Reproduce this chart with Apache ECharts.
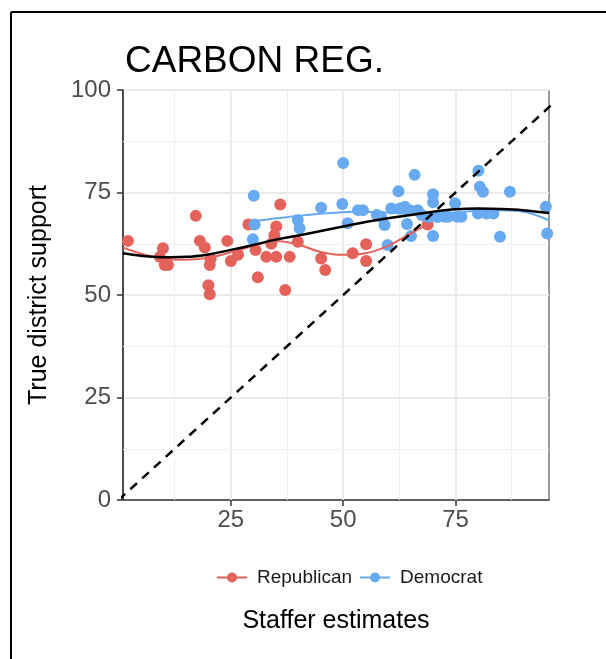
<!DOCTYPE html>
<html>
<head>
<meta charset="utf-8">
<script src="https://cdn.jsdelivr.net/npm/echarts@6/dist/echarts.min.js"></script>
<style>
  html, body { margin: 0; padding: 0; background: #fff; }
  #main { width: 606px; height: 659px; }
</style>
</head>
<body>
<div id="main"></div>
<script>
// staffer estimate (x) vs true district support (y)
var republican = [
  [2.1, 63.2], [9.2, 59.3], [9.9, 61.4], [10.3, 57.3], [11, 57.3], [17.2, 69.3],
  [18.1, 63.2], [19.2, 61.6], [20.3, 57.3], [20.5, 58.8], [20, 52.4], [20.3, 50.2],
  [24.2, 63.2], [25, 58.3], [26.6, 59.8], [28.9, 67.2], [30.5, 61], [31, 54.3],
  [32.9, 59.3], [35.1, 59.3], [34, 62.5], [34.7, 64.6], [35.1, 66.7], [36, 72.1],
  [38.1, 59.3], [37.1, 51.2], [39.9, 63], [45.1, 58.9], [46, 56.1], [52.1, 60.2],
  [55.1, 62.4], [55.1, 58.3], [68.8, 67.2]
];
var democrat = [
  [30.1, 74.2], [30.3, 67.2], [29.9, 63.6], [39.9, 68.3], [40.3, 66.3], [45.1, 71.3],
  [50, 82.2], [49.8, 72.2], [51, 67.5], [53.3, 70.7], [54.4, 70.7], [57.5, 69.5],
  [58.4, 69.1], [59.2, 67.1], [60.7, 71.1], [62.3, 75.3], [59.9, 62.2], [62.6, 71.1],
  [63.7, 71.5], [64.8, 70.7], [66.6, 70.7], [64.2, 67.3], [65.1, 64.4], [65.9, 79.3],
  [67.5, 69.5], [69, 69], [70, 74.6], [70, 72.6], [70, 64.4], [71, 69], [72.6, 69.1],
  [74.9, 72.4], [73.4, 69.1], [75.4, 69.1], [76.3, 69.1], [80.1, 80.3], [80.4, 76.4],
  [81.1, 75.2], [80, 69.9], [81.9, 69.9], [83.4, 69.9], [84.9, 64.2], [87.1, 75.2],
  [95.1, 71.5], [95.4, 65]
];
// loess fits
var repFit = [
  [1, 61.6], [5, 60.1], [10, 58.9], [15, 58.6], [20, 59.1], [25, 60.4], [30, 62],
  [35, 63.2], [40, 62.3], [45, 60.5], [50, 59.8], [55, 60.2], [60, 62], [65, 65], [68.8, 67.3]
];
var demFit = [
  [29.9, 67.9], [35, 68.7], [40, 69.3], [45, 69.8], [50, 70.2], [55, 70.3], [60, 70.1],
  [65, 69.8], [70, 69.7], [75, 70.1], [80, 70.6], [85, 70.7], [89, 70.5], [92, 69.8], [95.8, 68.2]
];
var allFit = [
  [1, 60.2], [5, 59.6], [10, 59.2], [15, 59.3], [20, 59.9], [25, 61], [30, 62.2], [35, 63.5],
  [40, 64.5], [45, 65.6], [50, 66.7], [55, 67.8], [60, 68.7], [65, 69.5], [70, 70.3],
  [75, 70.9], [80, 71.1], [85, 71], [90, 70.7], [95.8, 70]
];
var identity = [[0, 0], [100, 100]];

var xTicks = [25, 50, 75];
var xMinor = [12.5, 37.5, 62.5, 87.5];
var yMinor = [12.5, 37.5, 62.5, 87.5];

var RED = '#E4625A';
var BLUE = '#67AAF2';
var font = 'Liberation Sans, Arial, Helvetica, sans-serif';
var legendIcon = 'path://M0,5L30,5L30,7L0,7Z M20,6A5,5 0 1,1 10,6A5,5 0 1,1 20,6Z';

var gridLines = [];
xTicks.forEach(function (v) { gridLines.push({ xAxis: v, lineStyle: { type: 'solid', width: 2.2, color: '#EBEBEB' } }); });
xMinor.forEach(function (v) { gridLines.push({ xAxis: v, lineStyle: { type: 'solid', width: 1.1, color: '#F0F0F0' } }); });
yMinor.forEach(function (v) { gridLines.push({ yAxis: v, lineStyle: { type: 'solid', width: 1.1, color: '#F0F0F0' } }); });

var myChart = echarts.init(document.getElementById('main'));
myChart.setOption({
  animation: false,
  textStyle: { fontFamily: font },
  title: {
    text: 'CARBON REG.',
    left: 120,
    top: 38,
    textStyle: { fontSize: 37, fontWeight: 'normal', color: '#000', fontFamily: font }
  },
  legend: {
    data: [
      { name: 'Republican', icon: legendIcon },
      { name: 'Democrat', icon: legendIcon }
    ],
    left: 212,
    top: 563,
    itemWidth: 30,
    itemHeight: 10,
    itemGap: 8,
    textStyle: { fontSize: 19, color: '#1a1a1a', fontFamily: font, padding: [0, 0, 0, 5] }
  },
  grid: {
    left: 123, top: 90, right: 57, bottom: 159,
    show: true, borderColor: '#333', borderWidth: 1, backgroundColor: '#fff'
  },
  xAxis: {
    type: 'value',
    min: 1,
    max: 95.8,
    name: 'Staffer estimates',
    nameLocation: 'middle',
    nameGap: 109,
    nameTextStyle: { fontSize: 25, color: '#000', fontFamily: font },
    axisLine: { show: true, onZero: false, lineStyle: { color: '#333', width: 1.5 } },
    axisTick: { show: true, customValues: xTicks, length: 6, lineStyle: { color: '#333', width: 1.5 } },
    axisLabel: { customValues: xTicks, fontSize: 24, color: '#4d4d4d', margin: 8 },
    splitLine: { show: false }
  },
  yAxis: {
    type: 'value',
    min: 0,
    max: 100,
    interval: 25,
    name: 'True district support',
    nameLocation: 'middle',
    nameGap: 71,
    nameTextStyle: { fontSize: 25, color: '#000', fontFamily: font },
    axisLine: { show: true, lineStyle: { color: '#333', width: 1.5 } },
    axisTick: { show: true, length: 6, lineStyle: { color: '#333', width: 1.5 } },
    axisLabel: { fontSize: 24, color: '#4d4d4d', margin: 12 },
    splitLine: { show: true, lineStyle: { color: '#EBEBEB', width: 2.2 } }
  },
  graphic: [
    { type: 'line', shape: { x1: 11, y1: 12, x2: 606, y2: 12 }, style: { stroke: '#000', lineWidth: 2 } },
    { type: 'line', shape: { x1: 11, y1: 12, x2: 11, y2: 659 }, style: { stroke: '#000', lineWidth: 2 } }
  ],
  series: [
    {
      name: 'gridlines', type: 'line', data: [], z: 0, silent: true,
      markLine: { z: 1, silent: true, symbol: 'none', label: { show: false }, data: gridLines, animation: false }
    },
    {
      name: 'Republican', type: 'scatter', data: republican, symbolSize: 12, z: 2,
      itemStyle: { color: RED, opacity: 1 }
    },
    {
      name: 'Democrat', type: 'scatter', data: democrat, symbolSize: 12, z: 2,
      itemStyle: { color: BLUE, opacity: 1 }
    },
    {
      name: 'Republican', type: 'line', data: repFit, smooth: 0.4, showSymbol: false, z: 3,
      lineStyle: { color: RED, width: 2 }, itemStyle: { color: RED }
    },
    {
      name: 'Democrat', type: 'line', data: demFit, smooth: 0.4, showSymbol: false, z: 3,
      lineStyle: { color: BLUE, width: 2 }, itemStyle: { color: BLUE }
    },
    {
      name: 'all', type: 'line', data: allFit, smooth: 0.4, showSymbol: false, z: 4,
      lineStyle: { color: '#000', width: 2.5 }
    },
    {
      name: 'identity', type: 'line', data: identity, showSymbol: false, z: 5, clip: true,
      lineStyle: { color: '#000', width: 2.5, type: [9, 7] }
    }
  ]
});
</script>
</body>
</html>
